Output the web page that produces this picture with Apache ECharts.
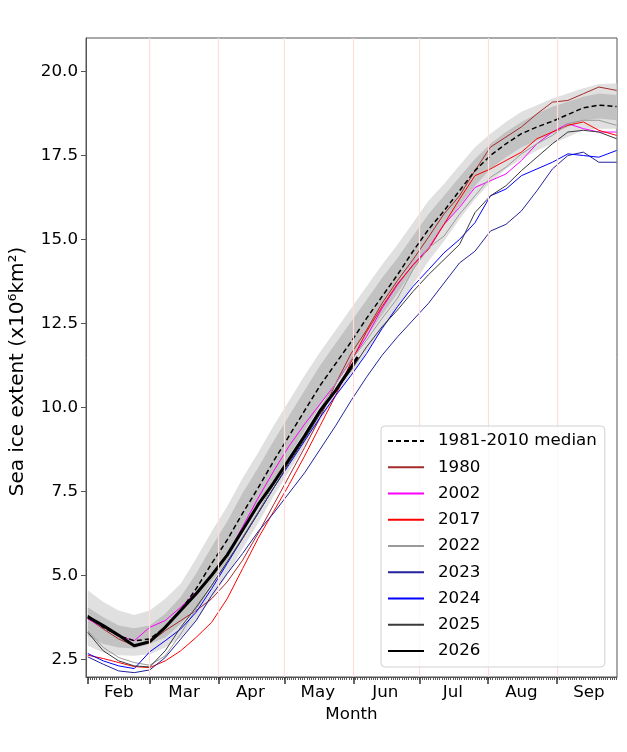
<!DOCTYPE html>
<html>
<head>
<meta charset="utf-8">
<script src="https://cdn.jsdelivr.net/npm/echarts@6/dist/echarts.min.js"></script>
<style>
  html, body { margin: 0; padding: 0; background: #fff; }
  #chart { width: 627px; height: 752px; }
</style>
</head>
<body>
<div id="chart"></div>
<script>
// day of year for each sample (Feb 1 = 32)
const days = [32,39,46,53,60,67,74,81,88,95,102,109,116,123,130,137,144,151,158,165,172,179,186,193,200,207,214,221,228,235,242,249,256,263,271];

// 1981-2010 climatology
const median = [3.80,3.45,3.20,3.05,3.10,3.45,3.95,4.60,5.35,6.05,6.85,7.60,8.40,9.15,9.90,10.65,11.30,11.95,12.65,13.30,13.95,14.65,15.30,15.85,16.45,17.05,17.50,17.85,18.15,18.35,18.52,18.72,18.92,19.00,18.96];
const q10 = [2.90,2.70,2.62,2.60,2.65,2.85,3.15,3.65,4.30,5.00,5.80,6.55,7.35,8.10,8.85,9.60,10.30,10.95,11.65,12.30,12.95,13.65,14.35,14.95,15.60,16.20,16.70,17.10,17.40,17.65,17.85,18.05,18.25,18.30,18.30];
const q25 = [3.20,2.95,2.85,2.82,2.95,3.15,3.55,4.05,4.80,5.45,6.25,7.00,7.80,8.55,9.30,10.05,10.75,11.40,12.10,12.75,13.40,14.10,14.80,15.40,16.00,16.60,17.10,17.45,17.75,17.95,18.15,18.35,18.55,18.60,18.55];
const q75 = [4.05,3.75,3.50,3.42,3.50,3.85,4.35,5.05,5.85,6.60,7.45,8.20,9.00,9.75,10.50,11.25,11.90,12.55,13.20,13.85,14.45,15.10,15.75,16.30,16.85,17.40,17.85,18.20,18.50,18.75,18.95,19.10,19.25,19.35,19.30];
const q90 = [4.55,4.20,3.95,3.82,3.95,4.30,4.75,5.50,6.30,7.05,7.90,8.65,9.45,10.20,10.95,11.65,12.30,12.95,13.60,14.25,14.85,15.50,16.15,16.65,17.20,17.75,18.15,18.50,18.80,19.00,19.20,19.35,19.50,19.62,19.65];

// individual years
const y1980 = [3.72,3.40,3.10,2.90,3.00,3.35,3.65,3.95,4.30,4.80,5.45,6.25,7.10,7.95,8.80,9.70,10.70,11.60,12.30,13.10,13.78,14.40,15.07,15.76,16.30,17.05,17.75,18.05,18.35,18.74,19.09,19.14,19.34,19.54,19.44];
const y2002 = [3.70,3.45,3.20,3.05,3.45,3.65,4.05,4.50,5.00,5.60,6.45,7.30,8.10,8.85,9.50,10.10,10.70,11.40,12.10,12.95,13.65,14.25,14.75,15.45,15.95,16.55,16.75,16.95,17.35,17.85,18.20,18.45,18.30,18.20,18.20];
const y2017 = [2.62,2.52,2.40,2.28,2.25,2.45,2.75,3.15,3.60,4.30,5.20,6.10,6.90,7.70,8.55,9.45,10.35,11.35,12.25,13.00,13.68,14.23,14.70,15.45,16.20,16.90,17.10,17.35,17.60,18.00,18.20,18.40,18.50,18.25,18.10];
const y2022 = [3.35,2.85,2.55,2.40,2.32,2.60,3.25,4.00,4.70,5.40,6.15,6.90,7.70,8.50,9.20,9.95,10.70,11.40,12.00,12.65,13.25,14.10,14.75,15.10,15.75,16.30,16.85,17.15,17.55,17.85,18.10,18.45,18.55,18.55,18.40];
const y2023 = [2.57,2.35,2.15,2.10,2.18,2.55,3.10,3.65,4.40,5.05,5.65,6.30,6.85,7.45,8.05,8.75,9.45,10.20,10.90,11.55,12.10,12.60,13.10,13.70,14.30,14.65,15.25,15.45,15.85,16.45,17.10,17.50,17.60,17.30,17.30];
const y2024 = [2.67,2.45,2.30,2.22,2.72,3.05,3.40,3.90,4.60,5.35,6.10,6.85,7.60,8.30,9.00,9.70,10.35,10.95,11.60,12.35,13.00,13.60,14.10,14.60,15.00,15.50,16.30,16.50,16.90,17.10,17.30,17.55,17.50,17.45,17.65];
const y2025 = [3.30,2.75,2.45,2.30,2.27,2.75,3.45,4.05,4.70,5.40,6.10,6.85,7.60,8.35,9.05,9.80,10.50,11.10,11.80,12.40,12.90,13.45,13.95,14.40,14.85,15.80,16.30,16.60,17.05,17.45,17.85,18.20,18.25,18.20,18.00];
const days2026 = [32,39,46,53,60,67,74,81,88,95,102,109,116,123,130,137,144,151,154];
const y2026 = [3.76,3.50,3.21,2.90,3.02,3.45,3.95,4.45,5.00,5.60,6.35,7.10,7.75,8.45,9.15,9.90,10.50,11.20,11.50];

// axis ticks / labels
const monthStarts = [32,60,91,121,152,182,213,244];
const monthMids = [46,75.5,105.5,136,166.5,197,228,258.5];
const monthNames = ['Feb','Mar','Apr','May','Jun','Jul','Aug','Sep'];
const yTicks = [2.5,5,7.5,10,12.5,15,17.5,20];
const dayTicks = [];
for (let d = 32; d <= 271; d++) dayTicks.push(d);

const FONT = 'DejaVu Sans';
const FS = 16.7;

function pairs(xs, ys) {
  return ys.map((v, i) => [xs[i], v]);
}

function band(lo, hi, color) {
  return {
    type: 'custom',
    silent: true,
    z: 1,
    data: [[days[0], lo[0]]],
    renderItem: function (params, api) {
      const pts = [];
      for (let i = 0; i < days.length; i++) pts.push(api.coord([days[i], hi[i]]));
      for (let i = days.length - 1; i >= 0; i--) pts.push(api.coord([days[i], lo[i]]));
      return { type: 'polygon', shape: { points: pts }, style: { fill: color } };
    }
  };
}

function yearLine(name, xs, ys, color, width) {
  return {
    name: name,
    type: 'line',
    data: pairs(xs, ys),
    symbol: 'none',
    z: 3,
    lineStyle: { color: color, width: width },
    itemStyle: { color: color }
  };
}

const chart = echarts.init(document.getElementById('chart'), null, { renderer: 'canvas' });

const option = {
  animation: false,
  textStyle: { fontFamily: FONT },
  grid: {
    left: 85, right: 10, top: 38, bottom: 75,
    show: true, borderColor: '#555', borderWidth: 1, backgroundColor: 'transparent'
  },
  xAxis: [
    {
      type: 'value', min: 31.2, max: 271.2,
      axisLine: { lineStyle: { color: '#555' } },
      axisTick: { customValues: dayTicks, length: 3, lineStyle: { color: '#555' } },
      axisLabel: { show: false },
      splitLine: { show: false }
    },
    {
      type: 'value', min: 31.2, max: 271.2, position: 'bottom',
      axisLine: { show: false },
      axisTick: { customValues: monthStarts, length: 7, lineStyle: { color: '#333', width: 1.5 } },
      axisLabel: {
        customValues: monthMids, margin: 7, color: '#000', fontSize: FS, fontFamily: FONT,
        formatter: v => monthNames[monthMids.indexOf(v)]
      },
      splitLine: { show: false },
      name: 'Month', nameLocation: 'middle', nameGap: 26,
      nameTextStyle: { color: '#000', fontSize: FS, fontFamily: FONT }
    }
  ],
  yAxis: {
    type: 'value', min: 1.97, max: 21.0,
    axisLine: { show: true, lineStyle: { color: '#555' } },
    axisTick: { show: true, customValues: yTicks, length: 5, lineStyle: { color: '#555' } },
    axisLabel: {
      customValues: yTicks, margin: 8, color: '#000', fontSize: FS, fontFamily: FONT,
      formatter: v => v.toFixed(1)
    },
    splitLine: { show: false },
    name: 'Sea ice extent (x10⁶km²)', nameLocation: 'middle', nameGap: 58,
    nameTextStyle: { color: '#000', fontSize: 20, fontFamily: FONT, padding: [0, 28, 0, 0] }
  },
  legend: {
    data: ['1981-2010 median','1980','2002','2017','2022','2023','2024','2025','2026'],
    orient: 'vertical', left: 381, top: 426,
    itemWidth: 36, itemHeight: 14, itemGap: 6.25,
    padding: [5, 8, 6, 6],
    backgroundColor: 'rgba(255,255,255,0.8)',
    borderColor: '#d0d0d0', borderWidth: 1, borderRadius: 4,
    z: 10,
    itemStyle: { opacity: 0 },
    textStyle: { color: '#000', fontSize: FS, fontFamily: FONT, lineHeight: 20, padding: [0, 0, 0, 9] }
  },
  series: [
    band(q10, q90, '#e0e0e0'),
    band(q25, q75, '#c2c2c2'),
    {
      name: '1981-2010 median', type: 'line', data: pairs(days, median), symbol: 'none', z: 4,
      lineStyle: { color: '#000', width: 1.5, type: [5, 3] },
      itemStyle: { color: '#000' },
      markLine: {
        silent: true, symbol: 'none', label: { show: false }, z: 5,
        lineStyle: { color: '#ffdcdc', width: 1.2, type: 'solid' },
        data: monthStarts.slice(1).map(d => ({ xAxis: d }))
      }
    },
    yearLine('1980', days, y1980, '#a52a2a', 1),
    yearLine('2002', days, y2002, '#ff00ff', 1),
    yearLine('2017', days, y2017, '#ff0000', 1),
    yearLine('2022', days, y2022, '#9a9a9a', 1),
    yearLine('2023', days, y2023, '#22229a', 1),
    yearLine('2024', days, y2024, '#0000ff', 1),
    yearLine('2025', days, y2025, '#3a3a3a', 1),
    yearLine('2026', days2026, y2026, '#000000', 3)
  ]
};

chart.setOption(option);
</script>
</body>
</html>
